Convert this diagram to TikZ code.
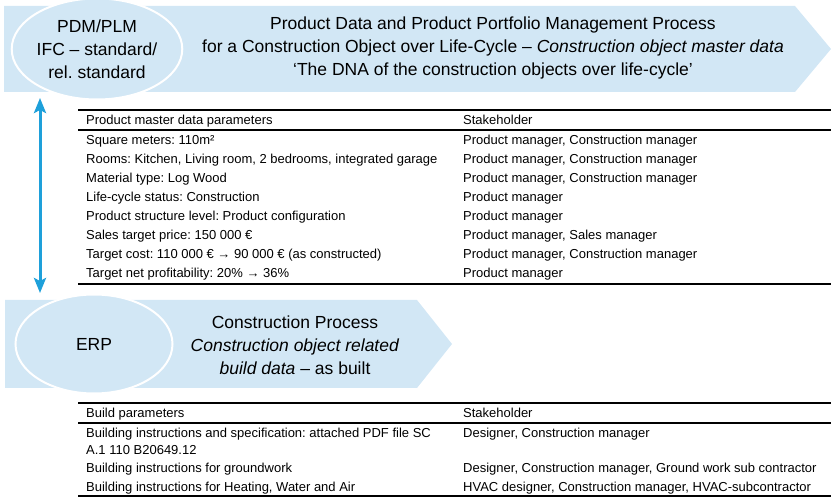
\documentclass[tikz,border=0pt]{standalone}
\usepackage{fontspec}
\setmainfont{Liberation Sans}
\usetikzlibrary{shapes.geometric,arrows.meta}
\definecolor{bannerblue}{RGB}{210,231,245}
\definecolor{linkblue}{RGB}{30,160,218}
\frenchspacing
\tikzset{
  banner/.style={fill=bannerblue},
  tag/.style={ellipse, draw=white, line width=2pt, fill=bannerblue,
    inner sep=0pt, align=center, font=\fontsize{17.5}{23}\selectfont},
  headline/.style={align=center, inner sep=0pt, font=\fontsize{17.5}{23}\selectfont},
  cell/.style={anchor=base west, inner sep=0pt, font=\fontsize{13}{17}\selectfont},
  rule/.style={line width=1.8pt},
  link/.style={draw=linkblue, line width=3pt,
    {Stealth[length=15pt,width=12pt,inset=3pt]}-{Stealth[length=15pt,width=12pt,inset=3pt]}}
}
\begin{document}
\begin{tikzpicture}[x=1pt,y=-1pt]
\useasboundingbox (0,0) rectangle (831,497);
% master data banner
\fill[banner] (4,6)--(795,6)--(831,49)--(795,92)--(4,92)--cycle;
\node[tag, minimum width=146pt, minimum height=101pt] (pdm) at (97,49)
  {PDM/PLM\\IFC – standard/\\rel. standard};
\node[headline] (pdmtext) at (493,48)
  {Product Data and Product Portfolio Management Process\\
   for a Construction Object over Life-Cycle – \textit{Construction object master data}\\
   ‘The DNA of the construction objects over life-cycle’};
% construction banner
\fill[banner] (5,300)--(417,300)--(452,344)--(417,388)--(5,388)--cycle;
\node[tag, minimum width=157pt, minimum height=99pt] (erp) at (94,344) {ERP};
\node[headline] (erptext) at (295,345)
  {Construction Process\\
   \textit{Construction object related}\\
   \textit{build data} – as built};
% link between the two
\coordinate (linktop) at (40,98);
\coordinate (linkbot) at (40,293);
\draw[link] (linktop) -- (linkbot);
% master data table
\draw[rule] (78,110)--(831,110) (78,130)--(831,130) (78,284)--(831,284);
\path (86,124.5) node[cell] (mhead) {Product master data parameters}
      (463,124.5) node[cell] (mwho) {Stakeholder};
\foreach \y/\parm/\holder in {
    140/{Square meters: 110m²}/{Product manager, Construction manager},
    159/{Rooms: Kitchen, Living room, 2 bedrooms, integrated garage}/{Product manager, Construction manager},
    178/{Material type: Log Wood}/{Product manager, Construction manager},
    197/{Life-cycle status: Construction}/{Product manager},
    216/{Product structure level: Product configuration}/{Product manager},
    235/{Sales target price: 150 000 €}/{Product manager, Sales manager},
    254/{Target cost: 110 000 € → 90 000 € (as constructed)}/{Product manager, Construction manager},
    273/{Target net profitability: 20\% → 36\%}/{Product manager}}
  \path (86,\y+4.5) node[cell] (m\y) {\parm}
        (463,\y+4.5) node[cell] (w\y) {\holder};
% build table
\draw[rule] (78,403)--(831,403) (78,423)--(831,423) (78,496)--(831,496);
\path (86,417.5) node[cell] (bhead) {Build parameters}
      (463,417.5) node[cell] (bwho) {Stakeholder};
\foreach \y/\parm/\holder in {
    433/{Building instructions and specification: attached PDF file SC}/{Designer, Construction manager},
    468/{Building instructions for groundwork}/{Designer, Construction manager, Ground work sub contractor},
    487/{Building instructions for Heating, Water and Air}/{HVAC designer, Construction manager, HVAC-subcontractor}}
  \path (86,\y+4.5) node[cell] (b\y) {\parm}
        (463,\y+4.5) node[cell] (v\y) {\holder};
\path (86,454.5) node[cell] (b450) {A.1 110 B20649.12};
\end{tikzpicture}
\end{document}
